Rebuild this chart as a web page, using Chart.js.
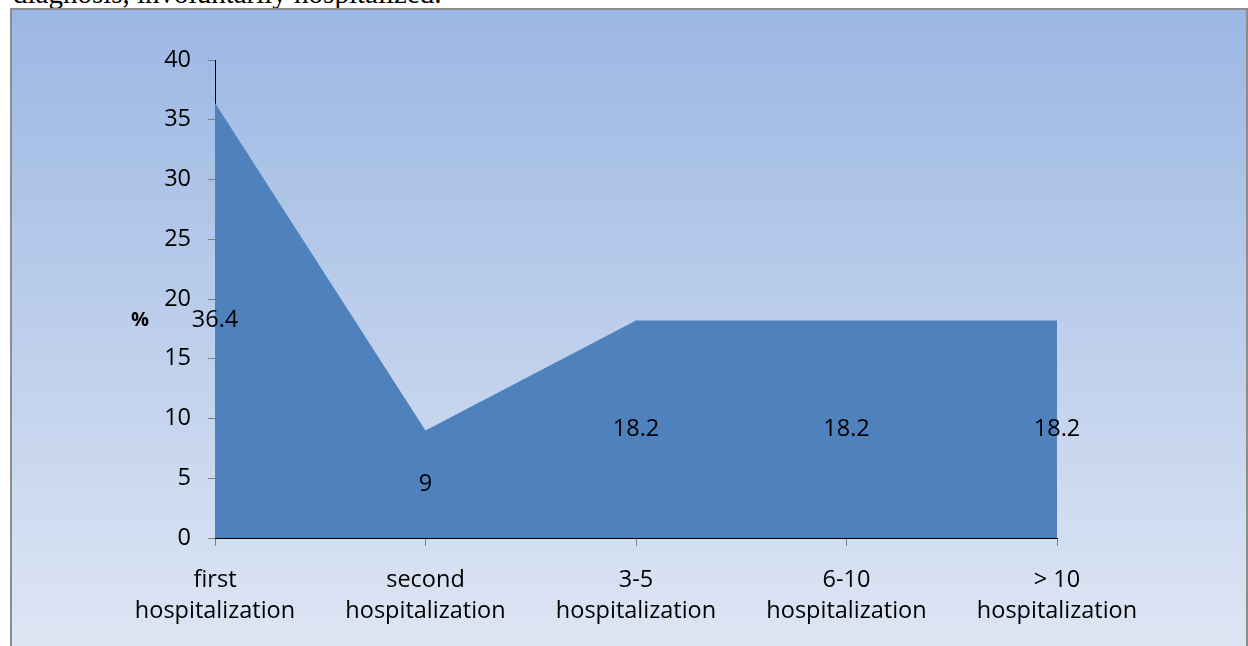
<!DOCTYPE html>
<html>
<head>
<meta charset="utf-8">
<script src="https://cdn.jsdelivr.net/npm/chart.js@4.4.1/dist/chart.umd.min.js"></script>
<style>
  html, body { margin: 0; padding: 0; background: #fff; overflow: hidden; }
  body { width: 1248px; height: 646px; position: relative; }
  #caption {
    position: absolute; left: 13px; top: -21px;
    font-family: "Liberation Serif", serif; font-size: 29px; line-height: 29px;
    color: #000; white-space: nowrap;
  }
  #frame {
    position: absolute; left: 10px; top: 8px; width: 1234px; height: 640px;
    border: 2px solid #8c8c8c;
    background: linear-gradient(to bottom, #9bb7e3 0%, #dee6f4 100%);
  }
  #wrap { position: absolute; left: 0; top: 0; width: 1234px; height: 636px; }
</style>
</head>
<body>
<div id="caption">diagnosis, involuntarily hospitalized.</div>
<div id="frame">
  <div id="wrap"><canvas id="chartHosp"></canvas></div>
</div>
<script>
  // data
  var categories = [
    ["first", "hospitalization"],
    ["second", "hospitalization"],
    ["3-5", "hospitalization"],
    ["6-10", "hospitalization"],
    ["> 10", "hospitalization"]
  ];
  var percentValues = [36.4, 9, 18.2, 18.2, 18.2];
  var valueLabels = ["36.4", "9", "18.2", "18.2", "18.2"];
  var yTicks = [0, 5, 10, 15, 20, 25, 30, 35, 40];

  var FONT = "'Open Sans', sans-serif";
  var FSIZE = 23.5;

  // labels sit at half the value, like excel's "center" position on area charts
  var areaLabels = {
    id: 'areaLabels',
    afterDatasetsDraw: function (chart) {
      var ctx = chart.ctx;
      var xs = chart.scales.x, ys = chart.scales.y;
      ctx.save();
      ctx.fillStyle = '#000';
      ctx.font = FSIZE + 'px ' + FONT;
      ctx.textAlign = 'center';
      ctx.textBaseline = 'middle';
      percentValues.forEach(function (v, i) {
        ctx.fillText(valueLabels[i], xs.getPixelForValue(i), ys.getPixelForValue(v / 2));
      });
      // horizontal axis title
      ctx.font = 'bold 20px ' + FONT;
      ctx.fillText('%', 128, ys.getPixelForValue(18.2));
      ctx.restore();
    }
  };

  new Chart('chartHosp', {
    type: 'line',
    data: {
      labels: categories,
      datasets: [{
        data: percentValues,
        fill: 'origin',
        backgroundColor: '#4f81bd',
        borderColor: '#4f81bd',
        borderWidth: 0,
        pointRadius: 0,
        pointHoverRadius: 0,
        tension: 0
      }]
    },
    options: {
      responsive: true,
      maintainAspectRatio: false,
      animation: false,
      layout: { padding: { left: 0, right: 189, top: 50, bottom: 0 } },
      plugins: {
        legend: { display: false },
        tooltip: { enabled: false }
      },
      scales: {
        x: {
          z: 1,
          offset: false,
          afterFit: function (s) { s.height = 108; },
          border: { color: '#000', width: 1 },
          grid: { drawOnChartArea: false, tickLength: 8, color: '#808080' },
          ticks: {
            color: '#000',
            maxRotation: 0,
            autoSkip: false,
            padding: 19,
            font: { family: FONT, size: FSIZE, lineHeight: 1.32 }
          }
        },
        y: {
          min: 0,
          max: 40,
          afterFit: function (s) { s.width = 203; },
          afterBuildTicks: function (s) { s.ticks = yTicks.map(function (v) { return { value: v }; }); },
          border: { color: '#000', width: 1 },
          grid: { drawOnChartArea: false, tickLength: 7, color: '#808080' },
          ticks: {
            color: '#000',
            padding: 17,
            font: { family: FONT, size: FSIZE }
          }
        }
      }
    },
    plugins: [areaLabels]
  });
</script>
</body>
</html>
